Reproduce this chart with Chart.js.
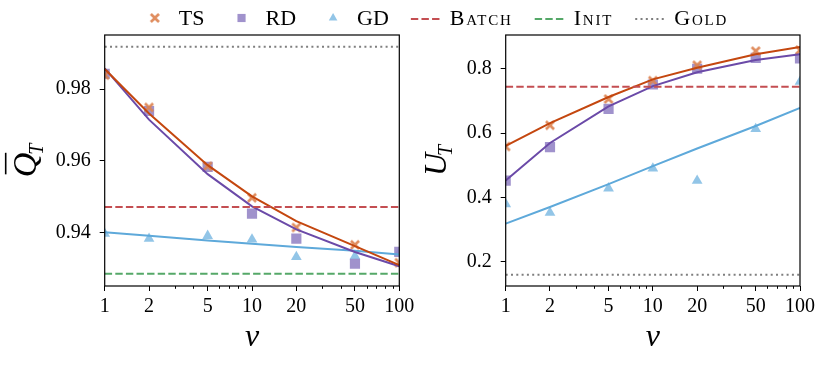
<!DOCTYPE html>
<html><head><meta charset="utf-8">
<script src="https://cdn.jsdelivr.net/npm/chart.js@4.4.1/dist/chart.umd.min.js"></script>
<style>
html,body{margin:0;padding:0;background:#fff;}
#wrap{position:relative;width:830px;height:369px;background:#fff;}
canvas{position:absolute;left:0;top:0;}
</style></head><body>
<div id="wrap">
<canvas id="left" width="830" height="369"></canvas>
<canvas id="right" width="830" height="369"></canvas>
</div>
<script>
// ---------- data ----------
const vValues = [1, 2, 5, 10, 20, 50, 100];
const xRange = [1, 100];
const xMajorTicks = [1, 2, 5, 10, 20, 50, 100];
const xMinorTicks = [3, 4, 6, 7, 8, 9, 30, 40, 60, 70, 80, 90];
const qTicks = [0.94, 0.96, 0.98];
const uTicks = [0.2, 0.4, 0.6, 0.8];
const seriesNames = ['TS', 'RD', 'GD', 'Batch', 'Init', 'Gold'];

// left panel: Q_T
const tsQ    = [0.9839, 0.9749, 0.9585, 0.9497, 0.9414, 0.9366, 0.9316];
const rdQ    = [0.9843, 0.9739, 0.9583, 0.9453, 0.9383, 0.9313, 0.9346];
const gdQ    = [0.9397, 0.9383, 0.9391, 0.9381, 0.9332, 0.9334, 0.9345];
const tsQFit = [0.9856, 0.9732, 0.9588, 0.9501, 0.9432, 0.9362, 0.9309];
const rdQFit = [0.9858, 0.9715, 0.9563, 0.9473, 0.9409, 0.9346, 0.9306];
const gdQFit = [0.9401, 0.9391, 0.9378, 0.9369, 0.9360, 0.9349, 0.9339];
const batchQ = 0.9471, initQ = 0.9285, goldQ = 0.9918;

// right panel: U_T
const tsU    = [0.558, 0.624, 0.706, 0.763, 0.811, 0.855, 0.858];
const rdU    = [0.452, 0.556, 0.675, 0.751, 0.800, 0.834, 0.832];
const gdU    = [0.379, 0.352, 0.428, 0.490, 0.452, 0.613, 0.760];
const tsUFit = [0.560, 0.631, 0.712, 0.767, 0.803, 0.845, 0.868];
const rdUFit = [0.452, 0.569, 0.683, 0.746, 0.789, 0.827, 0.845];
const gdUFit = [0.318, 0.370, 0.441, 0.497, 0.552, 0.622, 0.678];
const batchU = 0.744, goldU = 0.159;

// ---------- styles ----------
const FONT = "'Liberation Serif', 'Times New Roman', serif";
Chart.defaults.font.family = FONT;
Chart.defaults.color = '#000';
const C = {
  tsLine: '#c4470f', tsMark: 'rgba(221,132,82,0.92)',
  rdLine: '#6b4aa8', rdMark: 'rgba(150,134,198,0.9)',
  gdLine: '#5ea9da', gdMark: 'rgba(140,194,230,0.95)',
  batch: '#c44e52', init: '#55a868', gold: '#7f7f7f'
};
const DASH = [7.4, 3.2], DOT = [2, 3.3];

function makeX(color) {
  const s = 14, cv = document.createElement('canvas');
  cv.width = s; cv.height = s;
  const c = cv.getContext('2d');
  c.fillStyle = color;
  const r = 5, t = 1.9; // half-size, half-arm-thickness
  c.translate(s / 2, s / 2);
  c.beginPath();
  c.moveTo(-r + t, -r); c.lineTo(0, -t); c.lineTo(r - t, -r); c.lineTo(r, -r + t);
  c.lineTo(t, 0); c.lineTo(r, r - t); c.lineTo(r - t, r); c.lineTo(0, t);
  c.lineTo(-r + t, r); c.lineTo(-r, r - t); c.lineTo(-t, 0); c.lineTo(-r, -r + t);
  c.closePath(); c.fill();
  return cv;
}
const xMarker = makeX(C.tsMark);
const markerStyles = {
  TS: {pointStyle: xMarker, radius: 6, color: C.tsMark},
  RD: {pointStyle: 'rect', radius: 7.2, color: C.rdMark},
  GD: {pointStyle: 'triangle', radius: 6.2, color: C.gdMark}
};

const pts = arr => vValues.map((v, i) => ({x: v, y: arr[i]}));
const hline = val => xRange.map(x => ({x, y: val}));

function scatterDs(label, arr) {
  const m = markerStyles[label];
  return {type: 'scatter', label, data: pts(arr), showLine: false, order: 3,
    pointStyle: m.pointStyle, pointRadius: m.radius, pointHoverRadius: m.radius,
    backgroundColor: m.color, borderColor: m.color, borderWidth: 0};
}
function fitDs(label, arr, color) {
  return {type: 'scatter', label: label + ' fit', data: pts(arr), showLine: true, order: 2,
    borderColor: color, borderWidth: 2, pointRadius: 0, tension: 0, fill: false};
}
function refDs(label, val, color, dash) {
  return {type: 'scatter', label, data: hline(val), showLine: true, order: 1,
    borderColor: color, borderWidth: 2, borderDash: dash, pointRadius: 0, fill: false};
}

// ---------- plugins ----------
const framePlugin = {
  id: 'frame',
  afterDraw(chart) {
    const {ctx, chartArea: a, scales} = chart;
    ctx.save();
    ctx.strokeStyle = '#000';
    ctx.lineWidth = 1;
    const xs = scales.x;
    ctx.beginPath();
    xMinorTicks.forEach(v => {
      const px = Math.round(xs.getPixelForValue(v)) + 0.5;
      ctx.moveTo(px, a.bottom); ctx.lineTo(px, a.bottom + 2.8);
    });
    ctx.stroke();
    ctx.lineWidth = 1.2;
    ctx.strokeRect(a.left, a.top, a.right - a.left, a.bottom - a.top);
    ctx.restore();
  }
};

function yTitlePlugin(cfg) {
  return {
    id: 'yTitle',
    afterDraw(chart) {
      const {ctx, chartArea: a} = chart;
      const cx = a.left - cfg.offset;
      const cy = (a.top + a.bottom) / 2;
      ctx.save();
      ctx.translate(cx, cy);
      ctx.rotate(-Math.PI / 2);
      ctx.fillStyle = '#000';
      ctx.textBaseline = 'alphabetic';
      ctx.textAlign = 'left';
      const mainFont = `italic ${cfg.size}px ${FONT}`;
      const subFont = `italic ${cfg.subSize}px ${FONT}`;
      ctx.font = mainFont; const w1 = ctx.measureText(cfg.main).width;
      ctx.font = subFont; const w2 = ctx.measureText(cfg.sub).width;
      const total = w1 + w2 + cfg.subGap;
      const x0 = -total / 2;
      ctx.font = mainFont; ctx.fillText(cfg.main, x0, 0);
      ctx.font = subFont; ctx.fillText(cfg.sub, x0 + w1 + cfg.subGap, cfg.subDrop);
      if (cfg.overline) {
        ctx.strokeStyle = '#000'; ctx.lineWidth = 1.6;
        ctx.beginPath();
        ctx.moveTo(x0 + cfg.olStart, -cfg.olHeight);
        ctx.lineTo(x0 + w1 + cfg.olEnd, -cfg.olHeight);
        ctx.stroke();
      }
      ctx.restore();
    }
  };
}

const legendItems = [
  {text: seriesNames[0], kind: 'marker', m: markerStyles.TS},
  {text: seriesNames[1], kind: 'marker', m: markerStyles.RD},
  {text: seriesNames[2], kind: 'marker', m: markerStyles.GD},
  {text: seriesNames[3], kind: 'line', color: C.batch, dash: DASH},
  {text: seriesNames[4], kind: 'line', color: C.init, dash: DASH},
  {text: seriesNames[5], kind: 'line', color: C.gold, dash: DOT}
];
const legendPlugin = {
  id: 'figLegend',
  afterDraw(chart) {
    const ctx = chart.ctx;
    const handle = 30, pad = 9, gap = 22, cy = 19, center = 434;
    ctx.save();
    const setFont = it => {
      ctx.font = `small-caps 22px ${FONT}`;
      ctx.letterSpacing = it.kind === 'line' ? '1.8px' : '0px';
    };
    const widths = legendItems.map(it => { setFont(it); return ctx.measureText(it.text).width; });
    const total = widths.reduce((s, w) => s + w + handle + pad, 0) + gap * (legendItems.length - 1);
    let x = center - total / 2;
    legendItems.forEach((it, i) => {
      if (it.kind === 'marker') {
        ctx.fillStyle = it.m.color; ctx.strokeStyle = it.m.color;
        Chart.helpers.drawPoint(ctx, {pointStyle: it.m.pointStyle, radius: it.m.radius * 0.8, borderWidth: 0, rotation: 0}, x + handle / 2, cy - 1);
      } else {
        ctx.save();
        ctx.strokeStyle = it.color; ctx.lineWidth = 2; ctx.setLineDash(it.dash);
        ctx.beginPath(); ctx.moveTo(x, cy); ctx.lineTo(x + handle, cy); ctx.stroke();
        ctx.restore();
      }
      ctx.fillStyle = '#000';
      ctx.textBaseline = 'middle'; ctx.textAlign = 'left';
      setFont(it);
      ctx.fillText(it.text, x + handle + pad, cy);
      x += handle + pad + widths[i] + gap;
    });
    ctx.restore();
  }
};

// ---------- scale factory ----------
function xScale() {
  return {
    type: 'logarithmic', position: 'bottom', min: xRange[0], max: xRange[1],
    afterBuildTicks: s => { s.ticks = xMajorTicks.map(v => ({value: v})); },
    afterFit: s => { s.height = 83; },
    ticks: {font: {size: 20}, color: '#000', padding: 4, autoSkip: false, maxRotation: 0,
      callback: v => String(v)},
    grid: {drawOnChartArea: false, tickLength: 5, tickColor: '#000', tickWidth: 1},
    border: {display: false},
    title: {display: true, text: 'v', color: '#000', font: {size: 32, style: 'italic'},
      padding: {top: 0, bottom: 12}}
  };
}
function yScale(min, max, tickVals, width, digits) {
  return {
    min, max,
    afterBuildTicks: s => { s.ticks = tickVals.map(v => ({value: v})); },
    afterFit: s => { s.width = width; },
    ticks: {font: {size: 20}, color: '#000', padding: 9, callback: v => Number(v).toFixed(digits)},
    grid: {drawOnChartArea: false, tickLength: 5, tickColor: '#000', tickWidth: 1},
    border: {display: false}
  };
}

const common = {
  responsive: false, devicePixelRatio: 1, animation: false,
  plugins: {legend: {display: false}, tooltip: {enabled: false}}
};

// ---------- left chart ----------
new Chart(document.getElementById('left'), {
  type: 'scatter',
  data: {datasets: [
    refDs('Gold', goldQ, C.gold, DOT),
    refDs('Batch', batchQ, C.batch, DASH),
    refDs('Init', initQ, C.init, DASH),
    fitDs('TS', tsQFit, C.tsLine),
    fitDs('RD', rdQFit, C.rdLine),
    fitDs('GD', gdQFit, C.gdLine),
    scatterDs('TS', tsQ),
    scatterDs('RD', rdQ),
    scatterDs('GD', gdQ)
  ]},
  options: Object.assign({}, common, {
    layout: {padding: {left: 0, top: 35, right: 830 - 399.3, bottom: 0}},
    scales: {x: xScale(), y: yScale(0.9251, 0.9951, qTicks, 104.7, 2)}
  }),
  plugins: [framePlugin, legendPlugin,
    yTitlePlugin({main: 'Q', sub: 'T', size: 34, subSize: 20, subGap: -2, subDrop: 7,
      offset: 69, overline: true, olHeight: 30, olStart: 3, olEnd: 0})]
});

// ---------- right chart ----------
new Chart(document.getElementById('right'), {
  type: 'scatter',
  data: {datasets: [
    refDs('Gold', goldU, C.gold, DOT),
    refDs('Batch', batchU, C.batch, DASH),
    fitDs('TS', tsUFit, C.tsLine),
    fitDs('RD', rdUFit, C.rdLine),
    fitDs('GD', gdUFit, C.gdLine),
    scatterDs('TS', tsU),
    scatterDs('RD', rdU),
    scatterDs('GD', gdU)
  ]},
  options: Object.assign({}, common, {
    layout: {padding: {left: 505.7 - 70, top: 35, right: 30, bottom: 0}},
    scales: {x: xScale(), y: yScale(0.124, 0.905, uTicks, 70, 1)}
  }),
  plugins: [framePlugin,
    yTitlePlugin({main: 'U', sub: 'T', size: 32, subSize: 20, subGap: -3, subDrop: 6,
      offset: 60, overline: false})]
});
</script>
</body></html>
